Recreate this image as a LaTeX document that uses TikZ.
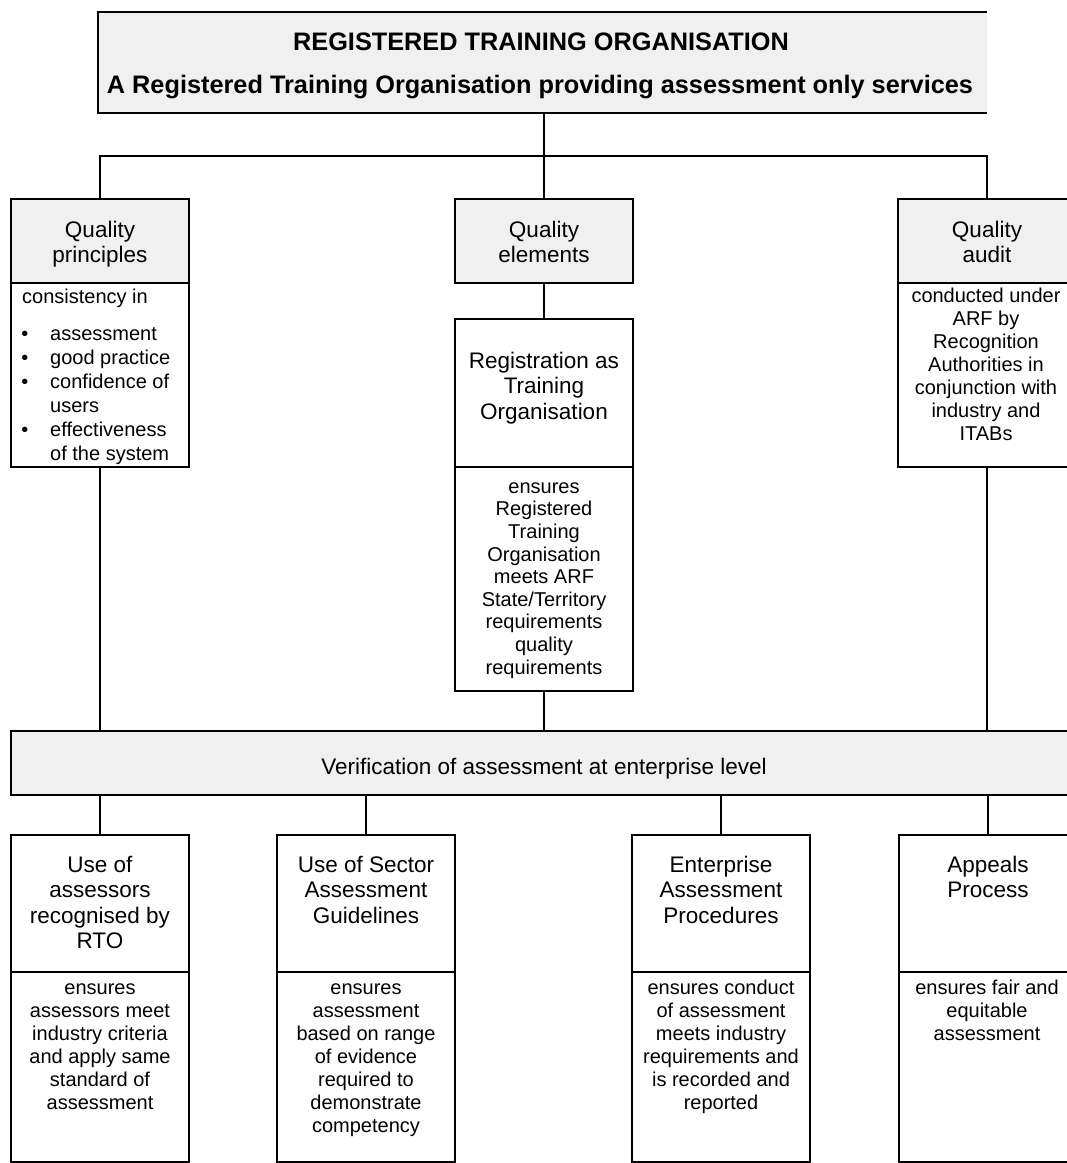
\documentclass[tikz,border=0pt]{standalone}
\usepackage{fontspec}
\setmainfont{Liberation Sans}
\definecolor{panelgrey}{RGB}{240,240,240}
% zero-width struts so that every first line has the same top
\newcommand\tstrut{\rule{0pt}{19pt}}
\newcommand\hstrut{\rule{0pt}{17pt}}
\newcommand\bstrut{\rule{0pt}{15pt}}
\tikzset{
  every picture/.style={x=1pt,y=-1pt},
  panel/.style={draw=black, line width=2pt, inner sep=0pt, outer sep=0pt, rectangle},
  greypanel/.style={panel, fill=panelgrey},
  link/.style={draw=black, line width=1.7pt},
  titletext/.style={inner sep=0pt, align=center, anchor=north,
    font=\fontsize{25.3}{29}\selectfont\bfseries},
  hdrtext/.style={inner sep=0pt, align=center, anchor=north,
    font=\fontsize{22.5}{25.5}\selectfont},
  bodytext/.style={inner sep=0pt, align=center, anchor=north,
    font=\fontsize{20}{23}\selectfont},
  listtext/.style={inner sep=0pt, align=left, anchor=north west,
    font=\fontsize{20}{24}\selectfont},
  bullet/.style={inner sep=0pt, anchor=north,
    font=\fontsize{20}{24}\selectfont},
}
\begin{document}
\begin{tikzpicture}
\useasboundingbox (0,0) rectangle (1067,1163);
\clip (0,0) rectangle (1067,1163);

% ---- top banner, open on its right side ----
\node[inner sep=0pt, outer sep=0pt, fill=panelgrey, minimum width=889pt, minimum height=101pt] (rto) at (542.5,62.5) {};
\draw[line width=2pt] (rto.north east) -- (rto.north west) -- (rto.south west) -- (rto.south east);
\node[titletext] (rtoA) at (541,31) {\tstrut REGISTERED TRAINING ORGANISATION};
\node[titletext] (rtoB) at (540,74) {\tstrut A Registered Training Organisation providing assessment only services};

% ---- quality principles ----
\node[greypanel, minimum width=178pt, minimum height=84pt] (qph) at (100,241) {};
\node[panel, minimum width=178pt, minimum height=184pt] (qpb) at (100,375) {};
\node[hdrtext] (qpt) at (100,220) {\hstrut Quality\\principles};
\node[listtext] (qpl) at (22,288) {\bstrut consistency in};
\node[bullet] (qpd1) at (25,325) {\bstrut\textbullet};
\node[listtext] (qpi1) at (50,325) {\bstrut assessment};
\node[bullet] (qpd2) at (25,349) {\bstrut\textbullet};
\node[listtext] (qpi2) at (50,349) {\bstrut good practice};
\node[bullet] (qpd3) at (25,373) {\bstrut\textbullet};
\node[listtext] (qpi3) at (50,373) {\bstrut confidence of\\users};
\node[bullet] (qpd4) at (25,421) {\bstrut\textbullet};
\node[listtext] (qpi4) at (50,421) {\bstrut effectiveness\\of the system};

% ---- quality elements and registration ----
\node[greypanel, minimum width=178pt, minimum height=84pt] (qeh) at (544,241) {};
\node[hdrtext] (qet) at (544,220) {\hstrut Quality\\elements};
\node[panel, minimum width=178pt, minimum height=148pt] (rgh) at (544,393) {};
\node[panel, minimum width=178pt, minimum height=224pt] (rgb) at (544,579) {};
\node[hdrtext] (rgt) at (544,351) {\hstrut Registration as\\Training\\Organisation};
\node[bodytext, font=\fontsize{20}{22.6}\selectfont] (rgd) at (544,478)
  {\bstrut ensures\\Registered\\Training\\Organisation\\meets ARF\\State/Territory\\requirements\\quality\\requirements};

% ---- quality audit ----
\node[greypanel, minimum width=178pt, minimum height=84pt] (qah) at (987,241) {};
\node[panel, minimum width=178pt, minimum height=184pt] (qab) at (987,375) {};
\node[hdrtext] (qat) at (987,220) {\hstrut Quality\\audit};
\node[bodytext] (qad) at (986,287)
  {\bstrut conducted under\\ARF by\\Recognition\\Authorities in\\conjunction with\\industry and\\ITABs};

% ---- verification bar ----
\node[greypanel, minimum width=1089pt, minimum height=64pt] (ver) at (555.5,763) {};
\node[hdrtext] (vert) at (544,757) {\hstrut Verification of assessment at enterprise level};

% ---- lower row ----
\node[panel, minimum width=178pt, minimum height=137pt] (b1h) at (100,903.5) {};
\node[panel, minimum width=178pt, minimum height=190pt] (b1b) at (100,1067) {};
\node[hdrtext] (b1t) at (100,855) {\hstrut Use of\\assessors\\recognised by\\RTO};
\node[bodytext] (b1d) at (100,979) {\bstrut ensures\\assessors meet\\industry criteria\\and apply same\\standard of\\assessment};

\node[panel, minimum width=178pt, minimum height=137pt] (b2h) at (366,903.5) {};
\node[panel, minimum width=178pt, minimum height=190pt] (b2b) at (366,1067) {};
\node[hdrtext] (b2t) at (366,855) {\hstrut Use of Sector\\Assessment\\Guidelines};
\node[bodytext] (b2d) at (366,979) {\bstrut ensures\\assessment\\based on range\\of evidence\\required to\\demonstrate\\competency};

\node[panel, minimum width=178pt, minimum height=137pt] (b3h) at (721,903.5) {};
\node[panel, minimum width=178pt, minimum height=190pt] (b3b) at (721,1067) {};
\node[hdrtext] (b3t) at (721,855) {\hstrut Enterprise\\Assessment\\Procedures};
\node[bodytext] (b3d) at (721,979) {\bstrut ensures conduct\\of assessment\\meets industry\\requirements and\\is recorded and\\reported};

\node[panel, minimum width=178pt, minimum height=137pt] (b4h) at (988,903.5) {};
\node[panel, minimum width=178pt, minimum height=190pt] (b4b) at (988,1067) {};
\node[hdrtext] (b4t) at (988,855) {\hstrut Appeals\\Process};
\node[bodytext] (b4d) at (987,979) {\bstrut ensures fair and\\equitable\\assessment};

% ---- connectors ----
\coordinate (bus) at (100,156);
\draw[link] (rto.south -| qeh.north) -- (qeh.north);
\draw[link] (qph.north) -- (qph.north |- bus) -- (qah.north |- bus) -- (qah.north);
\draw[link] (qeh.south) -- (rgh.north);
\draw[link] (qpb.south) -- (qpb.south |- ver.north);
\draw[link] (rgb.south) -- (rgb.south |- ver.north);
\draw[link] (qab.south) -- (qab.south |- ver.north);
\foreach \b in {b1h,b2h,b3h,b4h}
  \draw[link] (\b.north |- ver.south) -- (\b.north);
\end{tikzpicture}
\end{document}
